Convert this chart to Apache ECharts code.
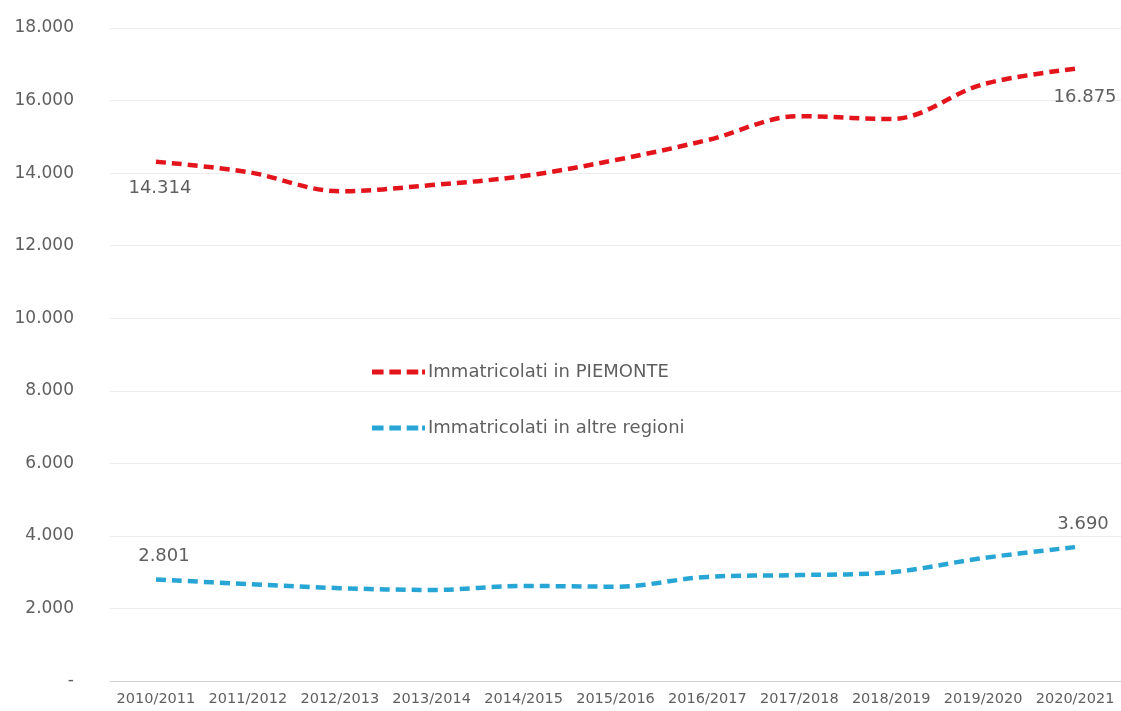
<!DOCTYPE html>
<html>
<head>
<meta charset="utf-8">
<title>Immatricolati</title>
<script src="https://cdn.jsdelivr.net/npm/echarts@6/dist/echarts.min.js"></script>
<style>
  html, body { margin: 0; padding: 0; background: #fff; }
  #chart { width: 1121px; height: 711px; }
</style>
</head>
<body>
<div id="chart"></div>
<script>
  // anni accademici
  var categories = ['2010/2011', '2011/2012', '2012/2013', '2013/2014', '2014/2015', '2015/2016',
    '2016/2017', '2017/2018', '2018/2019', '2019/2020', '2020/2021']
  // valori
  var piemonte = [14314, 14030, 13500, 13670, 13920, 14360, 14910, 15570, 15490, 16450, 16875]
  var altreRegioni = [2801, 2670, 2560, 2510, 2620, 2600, 2870, 2920, 3000, 3390, 3690]
  var seriesNames = ['Immatricolati in PIEMONTE', 'Immatricolati in altre regioni']

  var textColor = '#5f5f5f'
  var fontFamily = 'DejaVu Sans'
  // icona legenda: tre trattini e un pezzetto
  var dashIcon = 'path://M0,0h12v5h-12z M18,0h12v5h-12z M36,0h12v5h-12z M52,0h3v5h-3z'

  function fmt (v) {
    if (v === 0) return '-'
    return String(v).replace(/\B(?=(\d{3})+(?!\d))/g, '.')
  }

  // etichette solo sul primo e ultimo punto
  function withLabels (values, firstPos, lastPos, firstOffset, lastOffset) {
    return values.map(function (v, i) {
      if (i === 0) return { value: v, label: { show: true, position: firstPos, offset: firstOffset } }
      if (i === values.length - 1) return { value: v, label: { show: true, position: lastPos, offset: lastOffset } }
      return v
    })
  }

  var chart = echarts.init(document.getElementById('chart'))
  chart.setOption({
    animation: false,
    textStyle: { fontFamily: fontFamily },
    grid: { left: 110, right: 0, top: 28, bottom: 30 },
    legend: {
      orient: 'vertical',
      left: 367,
      top: 358,
      icon: dashIcon,
      itemWidth: 53,
      itemHeight: 5,
      itemGap: 38,
      textStyle: { color: textColor, fontSize: 18, fontFamily: fontFamily, padding: [0, 0, 0, -2] },
      data: seriesNames
    },
    xAxis: {
      type: 'category',
      data: categories,
      boundaryGap: true,
      axisTick: { show: false },
      axisLine: { lineStyle: { color: '#cfcfcf', width: 1 } },
      axisLabel: { color: textColor, fontSize: 14.5, interval: 0, margin: 11 }
    },
    yAxis: {
      type: 'value',
      min: 0,
      max: 18000,
      interval: 2000,
      axisLine: { show: false },
      axisTick: { show: false },
      splitLine: { lineStyle: { color: '#ececec', width: 1 } },
      axisLabel: { color: textColor, fontSize: 17, margin: 36, formatter: fmt }
    },
    series: [
      {
        name: seriesNames[0],
        type: 'line',
        smooth: 0.35,
        symbol: 'circle',
        symbolSize: 0,
        showSymbol: true,
        lineStyle: { color: '#e3141b', width: 4.5, type: [10, 6] },
        itemStyle: { color: '#e3141b' },
        label: { color: textColor, fontSize: 18, distance: 14, formatter: function (p) { return fmt(p.value) } },
        data: withLabels(piemonte, 'bottom', 'bottom', [4, 4], [10, 6])
      },
      {
        name: seriesNames[1],
        type: 'line',
        smooth: 0.35,
        symbol: 'circle',
        symbolSize: 0,
        showSymbol: true,
        lineStyle: { color: '#27a6d6', width: 4.5, type: [10, 6] },
        itemStyle: { color: '#27a6d6' },
        label: { color: textColor, fontSize: 18, distance: 14, formatter: function (p) { return fmt(p.value) } },
        data: withLabels(altreRegioni, 'top', 'top', [8, 0], [8, 0])
      }
    ]
  })
</script>
</body>
</html>
